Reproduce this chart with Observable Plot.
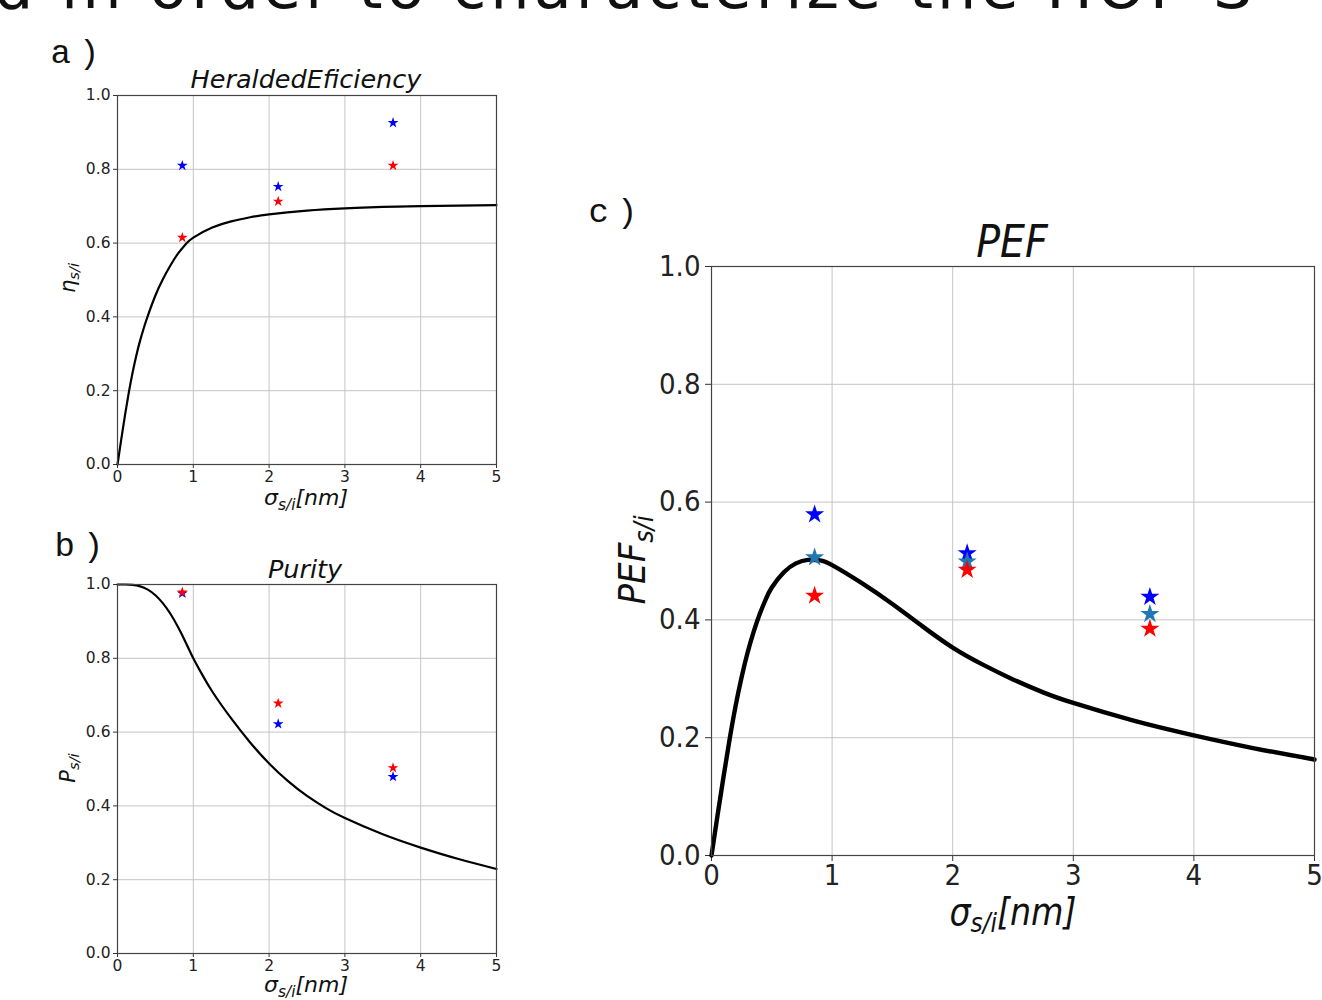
<!DOCTYPE html>
<html><head><meta charset="utf-8">
<script src="https://cdn.jsdelivr.net/npm/d3@7"></script>
<script src="https://cdn.jsdelivr.net/npm/@observablehq/plot@0.6"></script>
<style>
body{margin:0;background:#fff;}
#fig{position:relative;width:1322px;height:1000px;overflow:hidden;background:#fff;font-family:"DejaVu Sans";color:#111;}
.abs{position:absolute;white-space:nowrap;line-height:1;}
.it{font-style:italic;}
.cond{font-family:"DejaVu Sans Condensed","DejaVu Sans";font-stretch:condensed;}
.panlab{font-family:"Liberation Mono",monospace;letter-spacing:8px;color:#111;}
sub{font-size:70%;vertical-align:-0.3em;line-height:0;}
svg{position:absolute;overflow:visible;}
</style></head><body><div id="fig"></div>
<script>
// ---------- data ----------
const xTicks = [0, 1, 2, 3, 4, 5];
const yTicks = [0, 0.2, 0.4, 0.6, 0.8, 1.0];

// measured points (sigma_s/i in nm)
const sigmaExp = [0.855, 2.12, 3.635];
const heraldBlue = [0.81, 0.753, 0.926];
const heraldRed = [0.615, 0.713, 0.81];
const purityBlue = [0.976, 0.622, 0.479];
const purityRed = [0.979, 0.678, 0.503];
const pefBlue = [0.579, 0.513, 0.439];
const pefSteel = [0.506, 0.499, 0.41];
const pefRed = [0.441, 0.485, 0.385];

// theory curves
const heraldCurveX = [0, 0.05, 0.1, 0.15, 0.2, 0.25, 0.3, 0.35, 0.4, 0.5, 0.6, 0.7, 0.8, 0.9, 1.0, 1.25, 1.5, 1.75, 2.0, 2.5, 3.0, 3.5, 4.0, 5.0];
const heraldCurveY = [0, 0.069, 0.135, 0.196, 0.25, 0.297, 0.337, 0.372, 0.403, 0.458, 0.503, 0.54, 0.572, 0.597, 0.615, 0.642, 0.659, 0.67, 0.678, 0.688, 0.694, 0.698, 0.7, 0.703];

const purityCurveX = [0, 0.1, 0.2, 0.3, 0.4, 0.5, 0.6, 0.7, 0.8, 0.9, 1.0, 1.1, 1.25, 1.5, 1.75, 2.0, 2.25, 2.5, 2.75, 3.0, 3.5, 4.0, 4.5, 5.0];
const purityCurveY = [1.0, 1.0, 0.999, 0.995, 0.986, 0.971, 0.949, 0.92, 0.884, 0.843, 0.80, 0.762, 0.71, 0.637, 0.572, 0.515, 0.467, 0.427, 0.394, 0.367, 0.323, 0.287, 0.256, 0.229];

const pefCurveX = [0, 0.05, 0.1, 0.15, 0.2, 0.25, 0.3, 0.35, 0.4, 0.45, 0.5, 0.6, 0.7, 0.8, 0.9, 1.0, 1.25, 1.5, 1.75, 2.0, 2.25, 2.5, 2.75, 3.0, 3.5, 4.0, 4.5, 5.0];
const pefCurveY = [0, 0.068, 0.134, 0.197, 0.254, 0.303, 0.345, 0.38, 0.41, 0.435, 0.455, 0.481, 0.496, 0.502, 0.501, 0.493, 0.462, 0.427, 0.389, 0.353, 0.324, 0.299, 0.277, 0.259, 0.229, 0.204, 0.182, 0.163];

// ---------- helpers ----------
const zip = (xs, ys) => xs.map((x, i) => ({x, y: ys[i]}));
const fig = document.getElementById("fig");

function panel(o) {
  const marks = [
    Plot.gridX({ticks: xTicks, stroke: "#c4c4c4", strokeOpacity: 1, strokeWidth: 1}),
    Plot.gridY({ticks: yTicks, stroke: "#c4c4c4", strokeOpacity: 1, strokeWidth: 1}),
    Plot.axisX({ticks: xTicks, tickSize: o.ts, tickPadding: o.tpx, tickFormat: d => String(d), label: null, stroke: "#333", fill: "#222"}),
    Plot.axisY({ticks: yTicks, tickSize: o.ts, tickPadding: o.tpy, tickFormat: d => d.toFixed(1), label: null, stroke: "#333", fill: "#222"}),
    Plot.line(zip(o.cx, o.cy), {x: "x", y: "y", curve: "natural", stroke: "black", strokeWidth: o.lw})
  ];
  for (const s of o.stars) {
    marks.push(Plot.dot(zip(sigmaExp, s.v), {x: "x", y: "y", symbol: "star", r: o.r, fill: s.c, stroke: "none"}));
  }
  marks.push(Plot.frame({stroke: "#444", strokeWidth: 1.2}));
  const svg = Plot.plot({
    width: o.w, height: o.h,
    marginLeft: o.ml, marginRight: o.mr, marginTop: o.mt, marginBottom: o.mb,
    x: {domain: [0, 5]}, y: {domain: [0, 1]},
    style: {fontFamily: o.font, fontSize: o.fs + "px", fontStretch: o.stretch || "normal", background: "transparent", overflow: "visible"},
    marks
  });
  svg.style.left = o.left + "px";
  svg.style.top = o.top + "px";
  fig.appendChild(svg);
}

function label(html, cx, cy, css, cls, rot) {
  const d = document.createElement("div");
  d.className = "abs " + (cls || "");
  d.innerHTML = html;
  d.style.cssText += css;
  d.style.left = cx + "px";
  d.style.top = cy + "px";
  d.style.transform = "translate(-50%,-50%)" + (rot ? " rotate(-90deg)" : "");
  fig.appendChild(d);
}

// ---------- panels ----------
panel({left: 0, top: 60, w: 520, h: 460, ml: 117, mr: 24, mt: 35, mb: 56,
  ts: 4, tpx: 2, tpy: 3, fs: 15.5, font: "DejaVu Sans", lw: 2.2, r: 3.4,
  cx: heraldCurveX, cy: heraldCurveY,
  stars: [{v: heraldBlue, c: "#0000ff"}, {v: heraldRed, c: "#ff0000"}]});

panel({left: 0, top: 550, w: 520, h: 450, ml: 117, mr: 24, mt: 34, mb: 47,
  ts: 4, tpx: 2, tpy: 3, fs: 15.5, font: "DejaVu Sans", lw: 2.2, r: 3.4,
  cx: purityCurveX, cy: purityCurveY,
  stars: [{v: purityBlue, c: "#0000ff"}, {v: purityRed, c: "#ff0000"}]});

panel({left: 590, top: 240, w: 732, h: 700, ml: 121, mr: 8, mt: 26, mb: 85,
  ts: 6, tpx: 3, tpy: 5, fs: 29, font: "DejaVu Sans Condensed, DejaVu Sans", stretch: "condensed", lw: 4.4, r: 6,
  cx: pefCurveX, cy: pefCurveY,
  stars: [{v: pefBlue, c: "#0000ff"}, {v: pefSteel, c: "#1f77b4"}, {v: pefRed, c: "#ff0000"}]});

// ---------- texts ----------
const headText = document.createElement("div");
headText.className = "abs";
headText.style.cssText += "left:-6px;top:-44px;font-size:62px;font-family:'DejaVu Sans';letter-spacing:4px;";
headText.textContent = "d in order to characterize the HOF S";
fig.appendChild(headText);

label("a)", 79, 54, "font-size:34px;", "panlab");
label("b)", 83, 547, "font-size:34px;", "panlab");
label("c)", 617, 213, "font-size:34px;", "panlab");

label("HeraldedEficiency", 306, 80, "font-size:25.5px;", "it");
label("η<sub>s/i</sub>", 68, 278, "font-size:21px;", "it", true);
label("σ<sub>s/i</sub>[nm]", 306, 498, "font-size:22px;", "it");

label("Purity", 305, 570, "font-size:25.5px;", "it");
label("P<sub>s/i</sub>", 68, 768, "font-size:21px;", "it", true);
label("σ<sub>s/i</sub>[nm]", 306, 985, "font-size:22px;", "it");

label("PEF", 1012, 242, "font-size:44px;", "it cond");
label("PEF<sub>s/i</sub>", 632, 560, "font-size:38px;", "it cond", true);
label("σ<sub>s/i</sub>[nm]", 1013, 912, "font-size:37px;", "it cond");
</script></body></html>
